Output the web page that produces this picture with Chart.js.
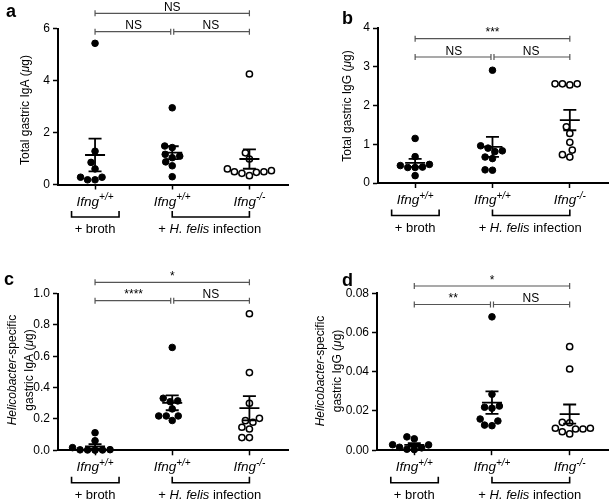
<!DOCTYPE html>
<html>
<head>
<meta charset="utf-8">
<script src="https://cdn.jsdelivr.net/npm/chart.js@4.4.1/dist/chart.umd.min.js"></script>
<style>
  body { margin: 0; background: #fff; }
  #wrap { position: relative; width: 614px; height: 502px; }
  canvas { position: absolute; }
</style>
</head>
<body>
<div id="wrap">
  <canvas id="pa" width="307" height="251" style="left:0;top:0"></canvas>
  <canvas id="pb" width="307" height="251" style="left:307px;top:0"></canvas>
  <canvas id="pc" width="307" height="251" style="left:0;top:251px"></canvas>
  <canvas id="pd" width="307" height="251" style="left:307px;top:251px"></canvas>
</div>
<script>
// groups, left to right
const genotype = ['Ifng', 'Ifng', 'Ifng'];
const genotypeSup = ['+/+', '+/+', '-/-'];
const treatments = ['+ broth', '+ H. felis infection'];

// a: total gastric IgA (ug)
const totalIgaBroth = [5.43, 1.28, 0.85, 0.60, 0.28, 0.18, 0.18, 0.28];
const totalIgaWt = [2.95, 1.48, 1.42, 1.09, 1.16, 1.03, 0.87, 0.72, 0.30];
const totalIgaKo = [4.25, 1.22, 0.98, 0.60, 0.49, 0.47, 0.34, 0.43, 0.49, 0.53];
// b: total gastric IgG (ug)
const totalIggBroth = [1.15, 0.68, 0.40, 0.45, 0.48, 0.40, 0.41, 0.19];
const totalIggWt = [2.91, 0.83, 0.90, 0.96, 0.81, 0.67, 0.63, 0.33, 0.34];
const totalIggKo = [2.56, 2.56, 2.53, 2.56, 1.45, 1.28, 1.05, 0.85, 0.73, 0.67];
// c: Helicobacter-specific gastric IgA (ug)
const heliIgaBroth = [0.112, 0.061, 0.017, 0.003, 0.002, 0.004, 0.001, 0.002];
const heliIgaWt = [0.656, 0.332, 0.310, 0.315, 0.264, 0.219, 0.190, 0.219, 0.219];
const heliIgaKo = [0.871, 0.496, 0.300, 0.204, 0.179, 0.189, 0.136, 0.147, 0.081, 0.081];
// d: Helicobacter-specific gastric IgG (ug)
const heliIggBroth = [0.0068, 0.0058, 0.0028, 0.0027, 0.0015, 0.0012, 0.0005, 0.0003];
const heliIggWt = [0.068, 0.0285, 0.0225, 0.0219, 0.0214, 0.0159, 0.0149, 0.0128, 0.0125];
const heliIggKo = [0.0528, 0.0414, 0.0142, 0.0140, 0.0112, 0.0112, 0.0108, 0.0108, 0.0094, 0.0083];

// y ticks
const ticksA = [0, 2, 4, 6];
const ticksB = [0, 1, 2, 3, 4];
const ticksC = [0, 0.2, 0.4, 0.6, 0.8, 1.0];
const ticksD = [0, 0.02, 0.04, 0.06, 0.08];

// significance: [broth vs KO, broth vs WT, WT vs KO]
const sigA = ['NS', 'NS', 'NS'];
const sigB = ['***', 'NS', 'NS'];
const sigC = ['*', '****', 'NS'];
const sigD = ['*', '**', 'NS'];

const FONT = "'Liberation Sans', Arial, Helvetica, sans-serif";
const W = 307, H = 251;
const X_MIN = 0.52, X_MAX = 3.5;

const panels = [
  { id: 'pa', letter: 'a', data: [totalIgaBroth, totalIgaWt, totalIgaKo], ticks: ticksA, dec: 0, sig: sigA,
    title: [[['Total gastric IgA (', ''], ['\u03bc', 'i'], ['g)', '']]],
    left: 58, top: 28.5, right: 288, bottom: 184.5,
    letterX: 6, letterY: 17, titleX: [25], titleY: 110, sigTop: 13.3, sigMid: 31.7 },
  { id: 'pb', letter: 'b', data: [totalIggBroth, totalIggWt, totalIggKo], ticks: ticksB, dec: 0, sig: sigB,
    title: [[['Total gastric IgG (', ''], ['\u03bc', 'i'], ['g)', '']]],
    left: 71, top: 28, right: 305, bottom: 183,
    letterX: 35, letterY: 24, titleX: [40], titleY: 106, sigTop: 38.7, sigMid: 57 },
  { id: 'pc', letter: 'c', data: [heliIgaBroth, heliIgaWt, heliIgaKo], ticks: ticksC, dec: 1, sig: sigC,
    title: [[['Helicobacter', 'i'], ['-specific', '']], [['gastric IgA (', ''], ['\u03bc', 'i'], ['g)', '']]],
    left: 58, top: 42.5, right: 288, bottom: 199.3,
    letterX: 4, letterY: 34, titleX: [12, 28.5], titleY: 119, sigTop: 31.3, sigMid: 49.7 },
  { id: 'pd', letter: 'd', data: [heliIggBroth, heliIggWt, heliIggKo], ticks: ticksD, dec: 2, sig: sigD,
    title: [[['Helicobacter', 'i'], ['-specific', '']], [['gastric IgG (', ''], ['\u03bc', 'i'], ['g)', '']]],
    left: 70, top: 42.3, right: 305, bottom: 199.2,
    letterX: 35, letterY: 35, titleX: [13, 29.7], titleY: 120, sigTop: 35, sigMid: 53.5 }
];

// simple beeswarm: horizontal offsets (px) so dots do not overlap
function swarm(values, pxPerY, diam) {
  const order = values.map((v, i) => i).sort((a, b) => values[a] - values[b]);
  const placed = [];
  const off = new Array(values.length);
  for (const i of order) {
    const y = values[i] * pxPerY;
    let best = null;
    for (let s = 0; s < 80 && best === null; s += 0.5) {
      for (const x of (s === 0 ? [0] : [-s, s])) {
        if (placed.every(p => Math.hypot(p.x - x, p.y - y) >= diam)) { best = x; break; }
      }
    }
    placed.push({ x: best, y: y });
    off[i] = best;
  }
  return off;
}

function meanSem(vals) {
  const n = vals.length;
  const m = vals.reduce((a, b) => a + b, 0) / n;
  const sd = Math.sqrt(vals.reduce((a, b) => a + (b - m) * (b - m), 0) / (n - 1));
  return [m, sd / Math.sqrt(n)];
}

// draws mixed italic / superscript text; parts = [[text, style]]
function rich(ctx, parts, x, y, size) {
  let w = 0;
  const segs = parts.map(([t, st]) => {
    const sup = st.includes('s'), it = st.includes('i');
    const fs = sup ? size * 0.74 : size;
    const font = (it ? 'italic ' : '') + fs + 'px ' + FONT;
    ctx.font = font;
    const sw = ctx.measureText(t).width;
    w += sw;
    return { t: t, font: font, sw: sw, dy: sup ? -size * 0.4 : 0 };
  });
  let cx = x - w / 2;
  ctx.textAlign = 'left';
  ctx.textBaseline = 'alphabetic';
  for (const s of segs) {
    ctx.font = s.font;
    ctx.fillText(s.t, cx, y + s.dy);
    cx += s.sw;
  }
}

function sigBar(ctx, x1, x2, y) {
  ctx.beginPath();
  ctx.moveTo(x1, y); ctx.lineTo(x2, y);
  ctx.moveTo(x1, y - 3); ctx.lineTo(x1, y + 3);
  ctx.moveTo(x2, y - 3); ctx.lineTo(x2, y + 3);
  ctx.stroke();
}

const decor = {
  id: 'decor',
  afterDatasetsDraw(chart) {
    const p = chart.options.plugins.decor.panel;
    const ctx = chart.ctx, xs = chart.scales.x, ys = chart.scales.y;
    ctx.save();
    ctx.strokeStyle = '#000';
    ctx.lineWidth = 1.8;
    p.data.forEach((vals, g) => {
      const [m, se] = meanSem(vals);
      const xp = xs.getPixelForValue(g + 1);
      const ym = ys.getPixelForValue(m), yt = ys.getPixelForValue(m + se), yb = ys.getPixelForValue(m - se);
      ctx.beginPath();
      ctx.moveTo(xp, yt); ctx.lineTo(xp, yb);
      ctx.moveTo(xp - 10, ym); ctx.lineTo(xp + 10, ym);
      ctx.moveTo(xp - 6.5, yt); ctx.lineTo(xp + 6.5, yt);
      ctx.moveTo(xp - 6.5, yb); ctx.lineTo(xp + 6.5, yb);
      ctx.stroke();
    });
    ctx.restore();
  },
  afterDraw(chart) {
    const p = chart.options.plugins.decor.panel;
    const ctx = chart.ctx, xs = chart.scales.x;
    const bottom = chart.chartArea.bottom;
    const cx = [1, 2, 3].map(v => xs.getPixelForValue(v));
    ctx.save();
    ctx.fillStyle = '#000';

    // panel letter
    ctx.font = 'bold 18px ' + FONT;
    ctx.textAlign = 'left';
    ctx.textBaseline = 'alphabetic';
    ctx.fillText(p.letter, p.letterX, p.letterY);

    // y title
    p.title.forEach((line, i) => {
      ctx.save();
      ctx.translate(p.titleX[i], p.titleY);
      ctx.rotate(-Math.PI / 2);
      rich(ctx, line, 0, 4.3, 12);
      ctx.restore();
    });

    // group labels
    cx.forEach((x, g) => rich(ctx, [[genotype[g], 'i'], [genotypeSup[g], 'is']], x, bottom + 21, 13.5));

    // treatment brackets
    ctx.strokeStyle = '#000';
    ctx.lineWidth = 1.6;
    const yb = bottom + 32.5;
    [[cx[0] - 23.5, cx[0] + 24], [cx[1], cx[2]]].forEach(([a, b]) => {
      ctx.beginPath();
      ctx.moveTo(a, bottom + 26.5); ctx.lineTo(a, yb); ctx.lineTo(b, yb); ctx.lineTo(b, bottom + 26.5);
      ctx.stroke();
    });
    rich(ctx, [[treatments[0], '']], cx[0], bottom + 48.5, 13);
    const tp = treatments[1].split(' ');
    rich(ctx, [[tp[0] + ' ', ''], [tp[1] + ' ' + tp[2], 'i'], [' ' + tp[3], '']], (cx[1] + cx[2]) / 2 - 1, bottom + 48.5, 13);

    // significance bars
    ctx.strokeStyle = '#555';
    ctx.lineWidth = 1.2;
    sigBar(ctx, cx[0], cx[2], p.sigTop);
    sigBar(ctx, cx[0], cx[1] - 1.5, p.sigMid);
    sigBar(ctx, cx[1] + 1.5, cx[2], p.sigMid);
    ctx.fillStyle = '#000';
    rich(ctx, [[p.sig[0], '']], (cx[0] + cx[2]) / 2, p.sigTop - 2.5, 12);
    rich(ctx, [[p.sig[1], '']], (cx[0] + cx[1]) / 2, p.sigMid - 2.5, 12);
    rich(ctx, [[p.sig[2], '']], (cx[1] + cx[2]) / 2, p.sigMid - 2.5, 12);
    ctx.restore();
  }
};

panels.forEach(p => {
  const yMax = p.ticks[p.ticks.length - 1];
  const pxY = (p.bottom - p.top) / yMax;
  const pxX = (p.right - p.left) / (X_MAX - X_MIN);
  const datasets = p.data.map((vals, g) => {
    const off = swarm(vals, pxY, 7.4);
    const open = g === 2;
    return {
      data: vals.map((v, i) => ({ x: g + 1 + off[i] / pxX, y: v })),
      pointRadius: open ? 3.1 : 3.3,
      pointBorderWidth: open ? 1.5 : 1,
      pointBackgroundColor: open ? '#fff' : '#000',
      pointBorderColor: '#000',
      clip: false
    };
  });

  new Chart(document.getElementById(p.id), {
    type: 'scatter',
    data: { datasets: datasets },
    plugins: [decor],
    options: {
      responsive: false,
      animation: false,
      events: [],
      layout: { padding: { left: 0, top: p.top, right: W - p.right, bottom: 0 } },
      plugins: { legend: { display: false }, tooltip: { enabled: false }, decor: { panel: p } },
      scales: {
        x: {
          type: 'linear', min: X_MIN, max: X_MAX,
          afterBuildTicks: s => { s.ticks = [1, 2, 3].map(v => ({ value: v })); },
          ticks: { display: false },
          grid: { drawOnChartArea: false, tickLength: 5, tickColor: '#000', tickWidth: 1.5 },
          border: { color: '#000', width: 2 },
          afterFit: s => { s.height = H - p.bottom; }
        },
        y: {
          min: 0, max: yMax,
          afterBuildTicks: s => { s.ticks = p.ticks.map(v => ({ value: v })); },
          ticks: { color: '#000', font: { size: 12, family: FONT }, padding: 3,
                   callback: v => Number(v).toFixed(p.dec) },
          grid: { drawOnChartArea: false, tickLength: 5, tickColor: '#000', tickWidth: 1.5 },
          border: { color: '#000', width: 2 },
          afterFit: s => { s.width = p.left; }
        }
      }
    }
  });
});
</script>
</body>
</html>
